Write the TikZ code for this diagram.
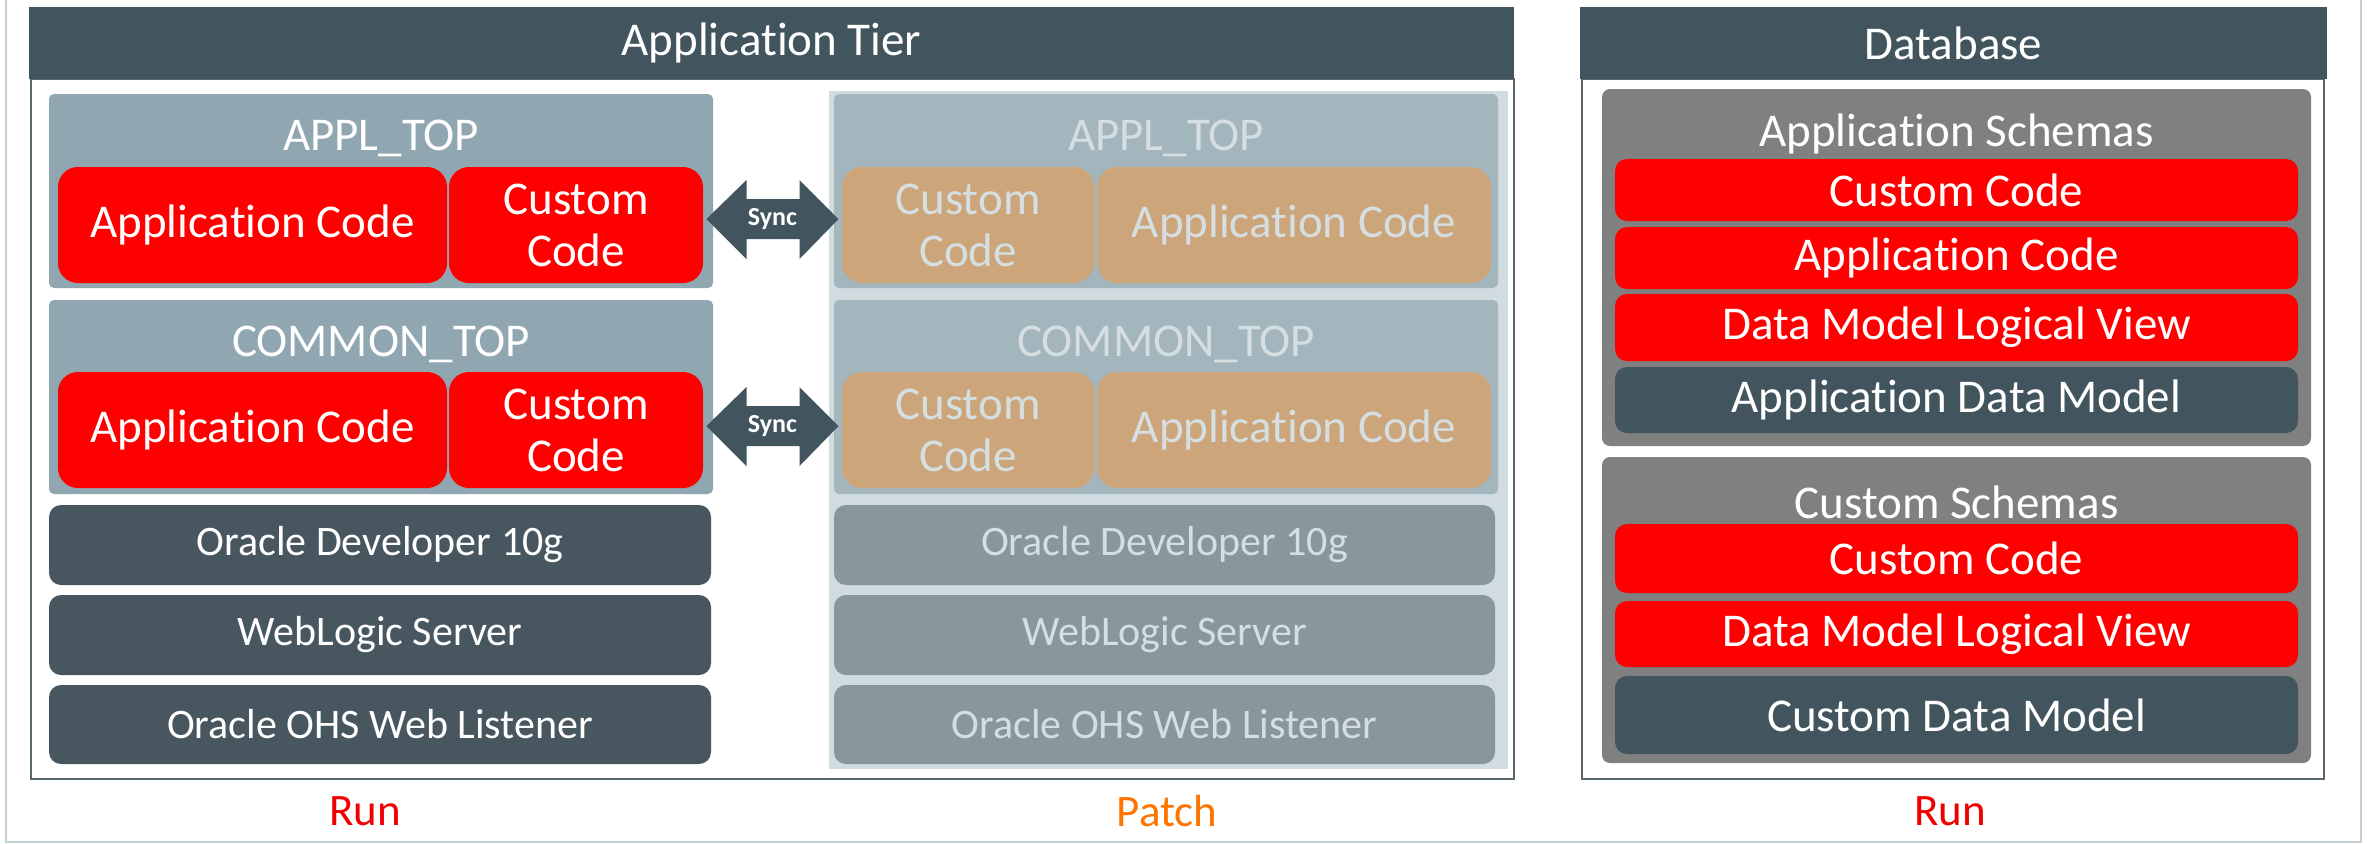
\documentclass[tikz,border=0pt]{standalone}
\usepackage{fontspec}
\setmainfont{Carlito}[RawFeature={-liga;-clig;-calt;-rlig;-dlig}]
\usetikzlibrary{calc}
\definecolor{hdr}{HTML}{42555E}
\definecolor{topbox}{HTML}{90A6B0}
\definecolor{redc}{HTML}{FF0000}
\definecolor{darkb}{HTML}{48575F}
\definecolor{schema}{HTML}{808080}
\definecolor{patchbg}{HTML}{D0DCDF}
\definecolor{patchtop}{HTML}{A3B6BE}
\definecolor{tanc}{HTML}{CDA57B}
\definecolor{patchdark}{HTML}{87979D}
\definecolor{patchtxt}{HTML}{D5DEE1}
\definecolor{frameln}{HTML}{C3D1D6}
\definecolor{boxln}{HTML}{5A6870}
\definecolor{runred}{HTML}{F00000}
\definecolor{patchor}{HTML}{FF7400}
\newcommand\bnode[7]{%
  \pgfmathsetmacro\bw{(#5-#3)*0.5}\pgfmathsetmacro\bh{(#6-#4)*0.5}%
  \node[#1, minimum width=\bw pt, minimum height=\bh pt] (#2) at ({(#3+#5)/2},{(#4+#6)/2}) {#7};}
\tikzset{
  bbase/.style={inner sep=0pt, outer sep=0pt, align=center, text=white, font=\fontsize{23.5}{26}\selectfont},
  hdrbox/.style={bbase, fill=hdr},
  tierbox/.style={bbase, draw=boxln, line width=1pt, fill=white},
  topgrp/.style={bbase, fill=topbox, rounded corners=2.5pt},
  redbox/.style={bbase, fill=redc, rounded corners=10pt},
  dbred/.style={bbase, fill=redc, rounded corners=6pt},
  darkbox/.style={bbase, fill=darkb, rounded corners=6pt, font=\fontsize{21}{24}\selectfont},
  dbdark/.style={bbase, fill=hdr, rounded corners=6pt},
  schemabox/.style={bbase, fill=schema, rounded corners=4pt},
  patcharea/.style={bbase, fill=patchbg},
  patchgrp/.style={bbase, fill=patchtop, rounded corners=2.5pt},
  tanbox/.style={bbase, fill=tanc, text=patchtxt, rounded corners=10pt},
  pdark/.style={darkbox, fill=patchdark, text=patchtxt},
  grptitle/.style={bbase},
  ptitle/.style={bbase, text=patchtxt},
  synctext/.style={inner sep=0pt, text=white, font=\fontsize{13}{15}\selectfont\bfseries},
  syncarrow/.style={fill=hdr},
  captext/.style={inner sep=0pt, font=\fontsize{22.5}{24}\selectfont},
}
\begin{document}
\begin{tikzpicture}[x=0.5pt,y=-0.5pt]
\useasboundingbox (0,0) rectangle (2367,843);
% outer frame
\draw[frameln, line width=0.75pt] (6,0) -- (6,842) -- (2361,842) -- (2361,0);
% ---------------- Application tier
\bnode{tierbox}{tier}{31}{79}{1514}{779}{}
\bnode{hdrbox}{tierhdr}{29}{7}{1514}{79}{Application Tier}
% run side
\bnode{topgrp}{appltop}{49}{94}{713}{288}{}
\node[grptitle] (appltopt) at ($(appltop.north)+(0,44)$) {APPL\_TOP};
\bnode{redbox}{ac1}{58}{167}{447}{283}{Application Code}
\bnode{redbox}{cc1}{449}{167}{703}{283}{Custom\\Code}
\bnode{topgrp}{commontop}{49}{300}{713}{494}{}
\node[grptitle] (commontopt) at ($(commontop.north)+(0,44)$) {COMMON\_TOP};
\bnode{redbox}{ac2}{58}{372}{447}{488}{Application Code}
\bnode{redbox}{cc2}{449}{372}{703}{488}{Custom\\Code}
\bnode{darkbox}{dev}{49}{505}{711}{585}{Oracle Developer 10g}
\bnode{darkbox}{wls}{49}{595}{711}{675}{WebLogic Server}
\bnode{darkbox}{ohs}{49}{685}{711}{764}{Oracle OHS Web Listener}
% patch side
\bnode{patcharea}{patch}{829}{91}{1508}{769}{}
\bnode{patchgrp}{pappltop}{834}{94}{1498}{288}{}
\node[ptitle] (pappltopt) at ($(pappltop.north)+(0,44)$) {APPL\_TOP};
\bnode{tanbox}{pcc1}{842}{167}{1094}{283}{Custom\\Code}
\bnode{tanbox}{pac1}{1097}{167}{1491}{283}{Application Code}
\bnode{patchgrp}{pcommontop}{834}{300}{1498}{494}{}
\node[ptitle] (pcommontopt) at ($(pcommontop.north)+(0,44)$) {COMMON\_TOP};
\bnode{tanbox}{pcc2}{842}{372}{1094}{488}{Custom\\Code}
\bnode{tanbox}{pac2}{1097}{372}{1491}{488}{Application Code}
\bnode{pdark}{pdev}{834}{505}{1495}{585}{Oracle Developer 10g}
\bnode{pdark}{pwls}{834}{595}{1495}{675}{WebLogic Server}
\bnode{pdark}{pohs}{834}{685}{1495}{764}{Oracle OHS Web Listener}
% sync arrows
\coordinate (s1) at ($(cc1.east)!0.5!(pcc1.west)+(0,-6)$);
\coordinate (s2) at ($(cc2.east)!0.5!(pcc2.west)+(0,-4)$);
\foreach \s in {s1,s2}{
  \fill[syncarrow] (\s) ++(-66,0) -- ++(40,-39) -- ++(0,19) -- ++(53,0) -- ++(0,-19)
    -- ++(39,39) -- ++(-39,40) -- ++(0,-20) -- ++(-53,0) -- ++(0,20) -- cycle;
}
\node[synctext] (sync1) at (s1) {Sync};
\node[synctext] (sync2) at (s2) {Sync};
% ---------------- Database
\bnode{tierbox}{db}{1582}{79}{2324}{779}{}
\bnode{hdrbox}{dbhdr}{1580}{7}{2327}{79}{Database}
\bnode{schemabox}{appsch}{1602}{89}{2311}{446}{}
\node[grptitle] (appscht) at ($(appsch.north)+(0,45)$) {Application Schemas};
\bnode{dbred}{dbcc1}{1615}{159}{2298}{221}{Custom Code}
\bnode{dbred}{dbac1}{1615}{227}{2298}{289}{Application Code}
\bnode{dbred}{dblv1}{1615}{294}{2298}{361}{Data Model Logical View}
\bnode{dbdark}{dbadm}{1615}{367}{2298}{433}{Application Data Model}
\bnode{schemabox}{cussch}{1602}{457}{2311}{763}{}
\node[grptitle] (cusscht) at ($(cussch.north)+(0,45)$) {Custom Schemas};
\bnode{dbred}{dbcc2}{1615}{524}{2298}{593}{Custom Code}
\bnode{dbred}{dblv2}{1615}{601}{2298}{667}{Data Model Logical View}
\bnode{dbdark}{dbcdm}{1615}{676}{2298}{754}{Custom Data Model}
% captions
\node[captext, text=runred] (run1) at (365,811) {Run};
\node[captext, text=patchor] (patchlbl) at (1167,811) {Patch};
\node[captext, text=runred] (run2) at (1950,811) {Run};
\end{tikzpicture}
\end{document}
